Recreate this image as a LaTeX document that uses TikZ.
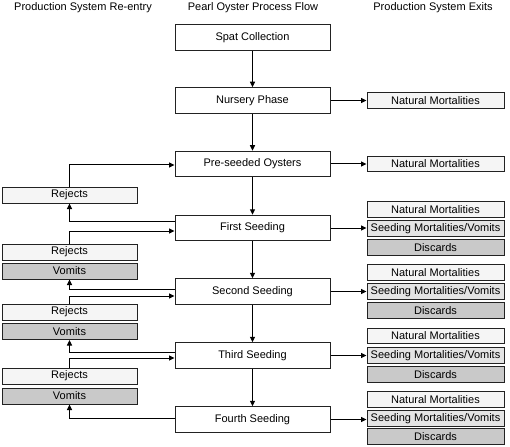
\documentclass[tikz,border=0pt]{standalone}
\usepackage{fontspec}
\setmainfont{Liberation Sans}
\usetikzlibrary{arrows.meta}
\definecolor{nmfill}{HTML}{F5F5F5}
\definecolor{smfill}{HTML}{E4E4E4}
\definecolor{dkfill}{HTML}{C9C9C9}
\definecolor{edge}{HTML}{222222}
\begin{document}
\begin{tikzpicture}[x=1pt,y=-1pt,
  font=\fontsize{11}{13}\selectfont,
  mainbox/.style={draw=edge,line width=1pt,fill=white,minimum width=155pt,minimum height=25.5pt,inner sep=0pt},
  rbox/.style={draw=edge,line width=1pt,minimum width=137pt,minimum height=15.5pt,inner sep=0pt},
  lbox/.style={draw=edge,line width=1pt,minimum width=135pt,minimum height=16pt,inner sep=0pt},
  nm/.style={rbox,fill=nmfill},
  sm/.style={rbox,fill=smfill},
  dc/.style={rbox,fill=dkfill},
  rj/.style={lbox,fill=nmfill},
  vm/.style={lbox,fill=dkfill},
  arr/.style={draw=black,line width=1pt,-{Triangle[length=5.5pt,width=5pt]}},
  head/.style={inner sep=0pt}]
\useasboundingbox (0,0) rectangle (510,446);
% headers
\node[head] (h1) at (83,8) {Production System Re-entry};
\node[head] (h2) at (253,8) {Pearl Oyster Process Flow};
\node[head] (h3) at (433,8) {Production System Exits};
% main column
\node[mainbox] (spat) at (252.5,37.5) {Spat Collection};
\node[mainbox] (nur) at (252.5,100.5) {Nursery Phase};
\node[mainbox] (pre) at (252.5,164) {Pre-seeded Oysters};
\node[mainbox] (s1) at (252.5,228) {First Seeding};
\node[mainbox] (s2) at (252.5,291.5) {Second Seeding};
\node[mainbox] (s3) at (252.5,355.5) {Third Seeding};
\node[mainbox] (s4) at (252.5,419.5) {Fourth Seeding};
% right column
\node[nm] (nm0) at (435.5,100.5) {Natural Mortalities};
\node[nm] (nmp) at (435.5,164) {Natural Mortalities};
\node[nm] (nm1) at (435.5,209.5) {Natural Mortalities};
\node[sm] (sm1) at (435.5,228.5) {Seeding Mortalities/Vomits};
\node[dc] (dc1) at (435.5,247.5) {Discards};
\node[nm] (nm2) at (435.5,272.5) {Natural Mortalities};
\node[sm] (sm2) at (435.5,291.5) {Seeding Mortalities/Vomits};
\node[dc] (dc2) at (435.5,310.5) {Discards};
\node[nm] (nm3) at (435.5,336) {Natural Mortalities};
\node[sm] (sm3) at (435.5,355.5) {Seeding Mortalities/Vomits};
\node[dc] (dc3) at (435.5,374.5) {Discards};
\node[nm] (nm4) at (435.5,399.5) {Natural Mortalities};
\node[sm] (sm4) at (435.5,418.5) {Seeding Mortalities/Vomits};
\node[dc] (dc4) at (435.5,436.5) {Discards};
% left column
\node[rj] (rj1) at (69.5,195) {Rejects};
\node[rj] (rj2) at (69.5,252) {Rejects};
\node[vm] (vm2) at (69.5,271) {Vomits};
\node[rj] (rj3) at (69.5,312) {Rejects};
\node[vm] (vm3) at (69.5,331.5) {Vomits};
\node[rj] (rj4) at (69.5,376) {Rejects};
\node[vm] (vm4) at (69.5,396) {Vomits};
% main flow
\draw[arr] (spat) -- (nur);
\draw[arr] (nur) -- (pre);
\draw[arr] (pre) -- (s1);
\draw[arr] (s1) -- (s2);
\draw[arr] (s2) -- (s3);
\draw[arr] (s3) -- (s4);
% exits
\draw[arr] (nur) -- (nm0);
\draw[arr] (pre) -- (nmp);
\draw[arr] (s1.east) -- (sm1.west |- s1.east);
\draw[arr] (s2) -- (sm2);
\draw[arr] (s3) -- (sm3);
\draw[arr] (s4.east) -- (sm4.west |- s4.east);
% re-entry
\draw[arr] (rj1.north) |- ([yshift=-1pt]pre.west);
\draw[arr] ([yshift=7pt]s1.west) -| (rj1.south);
\draw[arr] (rj2.north) |- ([yshift=-3pt]s1.west);
\draw[arr] ([yshift=2.5pt]s2.west) -| (vm2.south);
\draw[arr] (rj3.north) |- ([yshift=-4.5pt]s2.west);
\draw[arr] ([yshift=3.5pt]s3.west) -| (vm3.south);
\draw[arr] (rj4.north) |- ([yshift=-2.5pt]s3.west);
\draw[arr] ([yshift=1.5pt]s4.west) -| (vm4.south);
\end{tikzpicture}
\end{document}
